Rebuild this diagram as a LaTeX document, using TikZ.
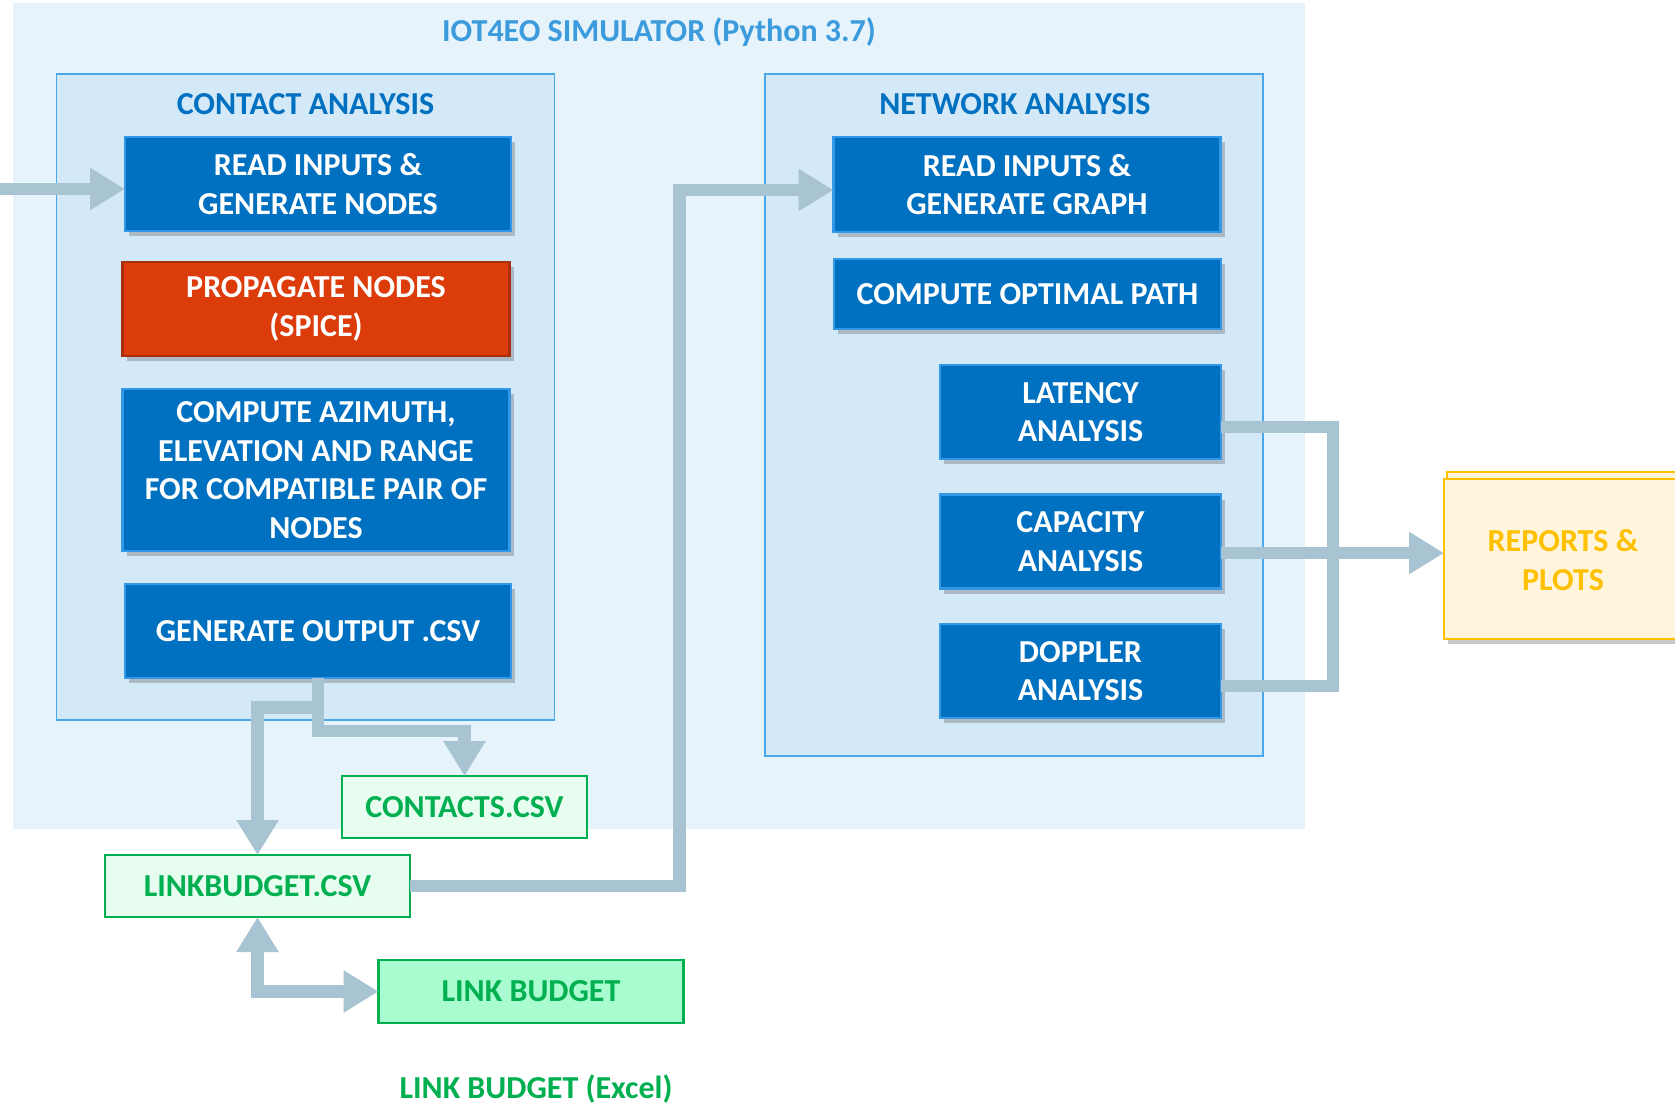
\documentclass[tikz,border=0pt]{standalone}
\usepackage{fontspec}
\setmainfont{Carlito}
\usetikzlibrary{shadows,arrows.meta}
\definecolor{outerbg}{HTML}{E6F3FB}
\definecolor{secbg}{HTML}{D3E9F7}
\definecolor{secedge}{HTML}{4AA8E8}
\definecolor{titleblue}{HTML}{3B9BDC}
\definecolor{secblue}{HTML}{0070C0}
\definecolor{boxblue}{HTML}{0070C0}
\definecolor{boxblueedge}{HTML}{3399E6}
\definecolor{redfill}{HTML}{DC3C0A}
\definecolor{rededge}{HTML}{A8300C}
\definecolor{greenedge}{HTML}{00B050}
\definecolor{greenfill}{HTML}{E6FDF0}
\definecolor{greenfill2}{HTML}{A8FCD0}
\definecolor{repfill}{HTML}{FEF5DC}
\definecolor{repedge}{HTML}{FFC000}
\definecolor{connc}{HTML}{A8C4D2}
\tikzset{
  box/.style={rectangle, inner sep=0pt, outer sep=0pt, align=center,
    font=\fontsize{16}{19.3}\selectfont\bfseries},
  wh/.style 2 args={minimum width=#1*0.5pt, minimum height=#2*0.5pt},
  shad/.style={drop shadow={shadow xshift=2pt, shadow yshift=-2.5pt, opacity=0.3, fill=black!70}},
  bluebox/.style={box, shad, fill=boxblue, draw=boxblueedge, line width=1.2pt, text=white},
  redbox/.style={box, shad, fill=redfill, draw=rededge, line width=1.2pt, text=white},
  greenbox/.style={box, fill=greenfill, draw=greenedge, line width=1.1pt, text=greenedge},
  section/.style={box, fill=secbg, draw=secedge, line width=0.9pt},
  heading/.style={inner sep=0pt, font=\fontsize{16}{19.3}\selectfont\bfseries},
  conn/.style={draw=connc, line width=6.25pt},
  arr/.style={conn, -{Triangle[width=20pt,length=17.5pt]}},
  darr/.style={conn, {Triangle[width=20pt,length=17.5pt]}-{Triangle[width=20pt,length=17.5pt]}}
}
\begin{document}
\begin{tikzpicture}[x=0.5pt,y=-0.5pt]
\useasboundingbox (0,0) rectangle (1675,1104);
% simulator frame
\node[box, fill=outerbg, wh={1292}{826}] (sim) at (659,416) {};
\node[heading, text=titleblue] (simtitle) at (659,32) {IOT4EO SIMULATOR (Python 3.7)};
% contact analysis
\node[section, wh={498}{646}] (contact) at (305.5,397) {};
\node[heading, text=secblue] (contacttitle) at (305.5,104) {CONTACT ANALYSIS};
\node[bluebox, wh={386}{94}] (cread) at (318,184) {READ INPUTS \&\\GENERATE NODES};
\node[redbox, wh={387}{94}] (cprop) at (316,309) {PROPAGATE NODES\\(SPICE)};
\node[bluebox, wh={387}{162}] (cazim) at (316,470) {COMPUTE AZIMUTH,\\ELEVATION AND RANGE\\FOR COMPATIBLE PAIR OF\\NODES};
\node[bluebox, wh={386}{94}] (cgen) at (318,631) {GENERATE OUTPUT .CSV};
% files
\node[greenbox, wh={245}{62}] (contacts) at (464.5,807) {CONTACTS.CSV};
\node[greenbox, wh={305}{62}] (lbcsv) at (257.5,886) {LINKBUDGET.CSV};
\node[greenbox, fill=greenfill2, wh={305}{63}] (lb) at (531,991.5) {LINK BUDGET};
\node[heading, text=greenedge] (lbexcel) at (536,1089) {LINK BUDGET (Excel)};
% network analysis
\node[section, wh={498}{682}] (network) at (1014,415) {};
\node[heading, text=secblue] (networktitle) at (1014.8,104) {NETWORK ANALYSIS};
\node[bluebox, wh={387}{95}] (nread) at (1027,184.5) {READ INPUTS \&\\GENERATE GRAPH};
\node[bluebox, wh={387}{70}] (npath) at (1027.5,294) {COMPUTE OPTIMAL PATH};
\node[bluebox, wh={281}{94}] (nlat) at (1080.5,412) {LATENCY\\ANALYSIS};
\node[bluebox, wh={281}{94}] (ncap) at (1080.5,541.6) {CAPACITY\\ANALYSIS};
\node[bluebox, wh={281}{94}] (ndop) at (1080.5,671) {DOPPLER\\ANALYSIS};
% reports
\node[box, fill=repfill, draw=repedge, line width=1.1pt, wh={250}{160}] (repback) at (1572,552) {};
\node[box, shad, fill=repfill, draw=repedge, line width=1.1pt, text=repedge, wh={250}{160}] (reports) at (1569,559) {};
\node[heading, text=repedge, align=center] (reptext) at (1563,560) {REPORTS \&\\PLOTS};
% connectors
\coordinate (src) at (0,189);
\draw[arr] (src) -- (src -| cread.west);
\draw[arr] (cgen.south) -- ++(0,53) -| (contacts.north);
\draw[arr] (cgen.south) -- ++(0,29.5) -| (lbcsv.north);
\coordinate (nbend) at (679.7,190);
\draw[arr] (lbcsv.east) -| (nbend) -- (nbend -| nread.west);
\draw[darr] (lbcsv.south) |- (lb.west);
\coordinate (bt) at (1333,427);
\coordinate (bb) at (1333,686);
\draw[conn] (nlat.east |- bt) -- (bt) -- (bb) -- (ndop.east |- bb);
\coordinate (cy) at (0,553);
\draw[arr] (ncap.east |- cy) -- (reports.west |- cy);
\end{tikzpicture}
\end{document}
